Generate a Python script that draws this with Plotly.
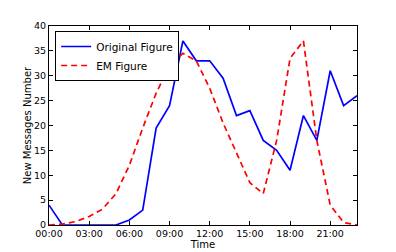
import plotly.graph_objects as go

hours = list(range(24))
original = [4, 0, 0, 0, 0, 0, 1, 3, 19.5, 24, 37, 33, 33, 29.5, 22, 23, 17, 15, 11, 22, 17, 31, 24, 26]
em = [0, 0.2, 0.7, 1.7, 3.2, 6.3, 12, 19.5, 26.5, 32, 34.5, 33, 27.5, 20.5, 14.5, 8.5, 6.3, 17, 33.5, 37, 17, 4, 0.5, 0]
tick_hours = [0, 3, 6, 9, 12, 15, 18, 21]
tick_labels = ["00:00", "03:00", "06:00", "09:00", "12:00", "15:00", "18:00", "21:00"]
y_ticks = [0, 5, 10, 15, 20, 25, 30, 35, 40]

fig = go.Figure()
fig.add_trace(go.Scatter(x=hours, y=original, mode="lines", name="Original Figure",
                         line=dict(color="#0000ff", width=1.7)))
fig.add_trace(go.Scatter(x=hours, y=em, mode="lines", name="EM Figure",
                         line=dict(color="#ff0000", width=1.7, dash="6px,4px")))

axis_common = dict(showline=True, linecolor="black", linewidth=1, mirror="ticks",
                   ticks="inside", ticklen=4, tickcolor="black", showgrid=False,
                   zeroline=False, tickfont=dict(family="DejaVu Sans", size=9.5, color="black"))

fig.update_layout(
    width=396, height=252,
    margin=dict(l=41, r=47, t=17, b=32),
    paper_bgcolor="white", plot_bgcolor="white",
    font=dict(family="DejaVu Sans", size=10, color="black"),
    xaxis=dict(range=[0, 23], tickvals=tick_hours, ticktext=tick_labels,
               title=dict(text="Time", standoff=2, font=dict(size=10)), **axis_common),
    yaxis=dict(range=[0, 40], tickvals=y_ticks,
               title=dict(text="New Messages Number", standoff=0, font=dict(size=10)), **axis_common),
    legend=dict(x=0.02, y=0.975, xanchor="left", yanchor="top",
                bordercolor="black", borderwidth=1, bgcolor="white",
                font=dict(size=10.5), tracegroupgap=0, itemwidth=30),
    showlegend=True,
)

fig.write_html("out.html")
